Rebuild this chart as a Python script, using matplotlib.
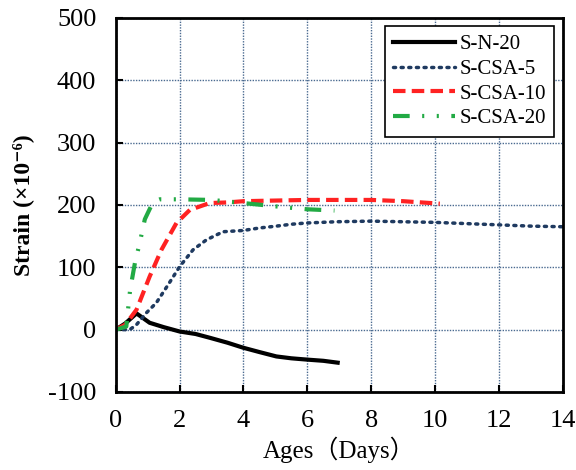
import numpy as np
import matplotlib.pyplot as plt

plt.rcParams['font.family'] = ['Liberation Serif', 'Noto Sans CJK SC', 'DejaVu Sans']
plt.rcParams['axes.unicode_minus'] = False

# S-N-20
t_n = [0, 0.3, 0.65, 1.06, 1.5, 2.0, 2.5, 2.94, 3.5, 3.99, 4.5, 5.03, 5.5, 5.97, 6.5, 6.95]
s_n = [0, 10, 26, 11, 4, -3, -7, -13, -21, -29, -36, -43, -46, -48, -50, -53]

# S-CSA-5
t_5 = [0, 0.44, 0.65, 0.96, 1.27, 1.64, 2.0, 2.42, 2.84, 3.36, 3.99, 4.5, 5.03, 5.5, 5.97,
       6.91, 8, 9, 10, 11, 12, 13, 14]
s_5 = [0, 0, 8, 27, 43, 72, 101, 128, 144, 157, 159, 163, 166, 169, 171,
       173, 174, 173, 172, 170, 168, 166, 165]

# S-CSA-10
t_10 = [0, 0.3, 0.65, 1.06, 1.43, 1.9, 2.32, 2.94, 3.5, 4, 5, 6, 7, 8, 9, 10.15]
s_10 = [0, 8, 32, 85, 128, 171, 192, 203, 204, 206, 207, 208, 208, 208, 206, 202]

# S-CSA-20
t_20 = [0, 0.33, 0.39, 0.45, 0.6, 0.75, 0.91, 1.17, 1.38, 2, 3, 4, 5.14, 6, 6.85]
s_20 = [0, 5, 35, 64, 107, 139, 177, 205, 209, 209, 208, 203, 197, 193, 191]

fig = plt.figure(figsize=(5.76, 4.70), dpi=100)
ax = fig.add_axes([0.201, 0.166, 0.776, 0.796])

ax.plot(t_n, s_n, color='black', lw=3, ls='-', label='S-N-20')
ax.plot(t_5, s_5, color='#1f3a60', lw=2.5, ls=(0, (0.6, 1.6)), dash_capstyle='round', label='S-CSA-5')
ax.plot(t_10, s_10, color='#ff2222', lw=3, ls=(0, (3, 1.5)), label='S-CSA-10')
ax.plot(t_20, s_20, color='#22aa44', lw=3, ls=(0, (4, 3, 0.5, 3, 0.5, 3)), label='S-CSA-20')

ax.set_xlim(0, 14)
ax.set_ylim(-100, 500)
ax.set_xticks(np.arange(0, 15, 2))
ax.set_yticks(np.arange(-100, 501, 100))
ax.grid(True, color='#4a6a90', ls=(0, (1, 1)), lw=1)
ax.tick_params(direction='in', labelsize=19, length=5, width=1.5)
ax.tick_params(axis='y', pad=14)
ax.tick_params(axis='x', pad=13)
for sp in ax.spines.values():
    sp.set_linewidth(2)

ax.set_xlabel('Ages（Days）', fontsize=18, labelpad=3)
ax.set_ylabel('Strain (×10⁻⁶)', fontsize=17, fontweight='bold', labelpad=10)

leg = ax.legend(loc='upper right', fontsize=15, frameon=True, fancybox=False,
                edgecolor='black', framealpha=1, handlelength=3, borderpad=0.4,
                labelspacing=0.25, handletextpad=0.2, borderaxespad=0.4)
leg.get_frame().set_linewidth(1.2)

fig.savefig('out.png', dpi=100)
